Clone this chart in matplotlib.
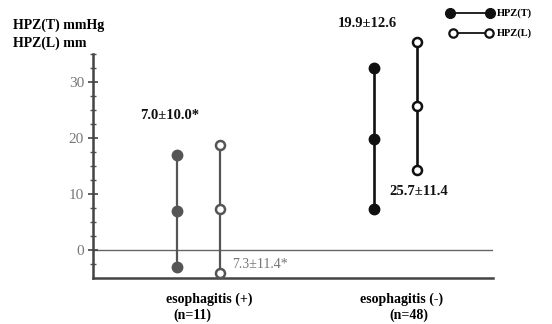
import matplotlib
matplotlib.use("Agg")
import matplotlib.pyplot as plt
from matplotlib.lines import Line2D
from matplotlib.ticker import FixedLocator
import numpy as np

# Mean and SD for each group and measure
groups = ["esophagitis (+)", "esophagitis (-)"]
group_n = ["(n=11)", "(n=48)"]
hpz_t_mean = [7.0, 19.9]
hpz_t_sd = [10.0, 12.6]
hpz_l_mean = [7.3, 25.7]
hpz_l_sd = [11.4, 11.4]
value_labels_t = ["7.0\u00b110.0*", "19.9\u00b112.6"]
value_labels_l = ["7.3\u00b111.4*", "25.7\u00b111.4"]
y_ticks = [0, 10, 20, 30]

W, H = 552, 324
fig = plt.figure(figsize=(W / 100, H / 100), dpi=100)
ax = fig.add_axes([93 / W, 1 - 278 / H, 400 / W, (278 - 26) / H])

serif = ["Liberation Serif", "DejaVu Serif"]

group_pos = [1.05, 3.025]
offset = 0.215
group_colors = ["#555555", "#111111"]
group_lw = [1.6, 1.9]

for i, gx in enumerate(group_pos):
    c = group_colors[i]
    xt = gx - offset
    xl = gx + offset
    m, s = hpz_t_mean[i], hpz_t_sd[i]
    ax.plot([xt, xt, xt], [m - s, m, m + s], color=c, lw=group_lw[i],
            marker="o", ms=7.5, mfc=c, mec=c, clip_on=False, zorder=3)
    m, s = hpz_l_mean[i], hpz_l_sd[i]
    ax.plot([xl, xl, xl], [m - s, m, m + s], color=c, lw=group_lw[i],
            marker="o", ms=6.5, mfc="white", mec=c, mew=1.8,
            clip_on=False, zorder=3)

ax.set_xlim(0, 4)
ax.set_ylim(-5, 40)
ax.axhline(0, color="#666666", lw=1.0, zorder=1)

for side in ["top", "right"]:
    ax.spines[side].set_visible(False)
ax.spines["left"].set_bounds(-5, 35)
ax.spines["left"].set_linewidth(1.8)
ax.spines["left"].set_color("#444444")
ax.spines["bottom"].set_linewidth(1.8)
ax.spines["bottom"].set_color("#444444")

ax.set_xticks([])
ax.set_yticks(y_ticks)
ax.yaxis.set_minor_locator(FixedLocator(np.arange(-2.5, 35.1, 2.5)))
ax.tick_params(axis="y", which="major", direction="inout", length=7,
               width=1.2, color="#444444", labelcolor="#777777",
               labelsize=11, pad=3)
ax.tick_params(axis="y", which="minor", direction="inout", length=4,
               width=1.0, color="#555555")
for lab in ax.get_yticklabels():
    lab.set_fontfamily(serif)

# Value annotations
ax.text(0.77, 24.1, value_labels_t[0], ha="center", va="center",
        fontsize=10.5, fontweight="bold", family=serif, color="#111111")
ax.text(1.39, -2.5, value_labels_l[0], ha="left", va="center",
        fontsize=10, family=serif, color="#777777")
ax.text(2.45, 40.4, value_labels_t[1], ha="left", va="center",
        fontsize=10.5, fontweight="bold", family=serif, color="#111111",
        clip_on=False)
ax.text(2.96, 10.4, value_labels_l[1], ha="left", va="center",
        fontsize=10.5, fontweight="bold", family=serif, color="#111111")

# Group labels beneath the axis
ax.text(1.16, -8.8, groups[0], ha="center", va="center", fontsize=10,
        fontweight="bold", family=serif, clip_on=False)
ax.text(0.99, -11.6, group_n[0], ha="center", va="center", fontsize=10,
        fontweight="bold", family=serif, clip_on=False)
ax.text(3.09, -8.8, groups[1], ha="center", va="center", fontsize=10,
        fontweight="bold", family=serif, clip_on=False)
ax.text(3.16, -11.6, group_n[1], ha="center", va="center", fontsize=10,
        fontweight="bold", family=serif, clip_on=False)

# Axis title
fig.text(13 / W, 1 - 25 / H, "HPZ(T) mmHg", ha="left", va="center",
         fontsize=10, fontweight="bold", family=serif)
fig.text(13 / W, 1 - 43 / H, "HPZ(L) mm", ha="left", va="center",
         fontsize=10, fontweight="bold", family=serif)

# Legend
fig.add_artist(Line2D([450 / W, 490 / W], [1 - 13 / H, 1 - 13 / H],
                      transform=fig.transFigure, color="#111111", lw=1.3,
                      marker="o", ms=7, mfc="#111111", mec="#111111"))
fig.add_artist(Line2D([453 / W, 489 / W], [1 - 33 / H, 1 - 33 / H],
                      transform=fig.transFigure, color="#111111", lw=1.3,
                      marker="o", ms=6, mfc="white", mec="#111111", mew=1.6))
fig.text(497 / W, 1 - 13 / H, "HPZ(T)", ha="left", va="center",
         fontsize=7.5, fontweight="bold", family=serif)
fig.text(497 / W, 1 - 33 / H, "HPZ(L)", ha="left", va="center",
         fontsize=7.5, fontweight="bold", family=serif)

fig.savefig("out.png", dpi=100)
